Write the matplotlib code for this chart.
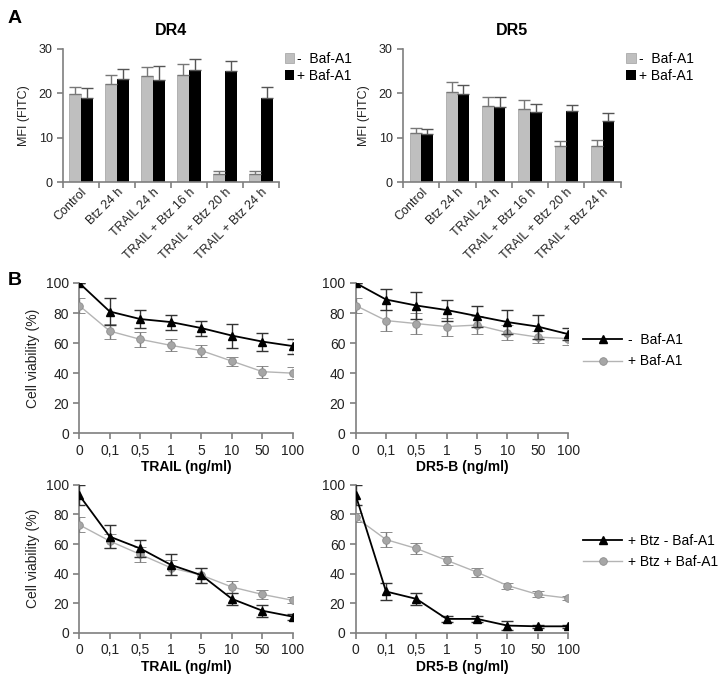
import matplotlib
matplotlib.use("Agg")
import matplotlib.pyplot as plt
from matplotlib.lines import Line2D
import numpy as np

plt.rcParams['font.family'] = ['Liberation Sans', 'DejaVu Sans']

# bar chart data (panel A)
bar_cats = ['Control', 'Btz 24 h', 'TRAIL 24 h', 'TRAIL + Btz 16 h',
            'TRAIL + Btz 20 h', 'TRAIL + Btz 24 h']
dr4_minus = [19.8, 22.1, 23.8, 24.1, 1.8, 1.8]
dr4_minus_err = [1.5, 2.0, 2.0, 2.5, 0.6, 0.6]
dr4_plus = [19.0, 23.1, 23.0, 25.2, 25.1, 19.0]
dr4_plus_err = [2.1, 2.3, 3.1, 2.5, 2.2, 2.4]
dr5_minus = [11.0, 20.3, 17.1, 16.4, 8.1, 8.1]
dr5_minus_err = [1.2, 2.2, 2.0, 2.0, 1.1, 1.3]
dr5_plus = [10.8, 19.8, 16.8, 15.7, 15.9, 13.8]
dr5_plus_err = [1.2, 2.1, 2.3, 1.9, 1.4, 1.7]

# viability data (panel B)
doses = ['0', '0,1', '0,5', '1', '5', '10', '50', '100']
trail_minus = [100, 81, 76, 74, 70, 65, 61, 58]
trail_minus_err = [0, 9, 6, 5, 5, 8, 6, 5]
trail_plus = [85, 68, 62.5, 58.5, 55, 48, 41, 40]
trail_plus_err = [5, 5, 5, 4, 4, 3, 4, 4]
dr5b_minus = [100, 89, 85, 82, 78, 74, 71, 66]
dr5b_minus_err = [0, 7, 9, 7, 7, 8, 8, 4]
dr5b_plus = [85, 75, 73, 71, 72, 67, 64, 63]
dr5b_plus_err = [5, 7, 7, 6, 6, 5, 4, 4]
trail_btz_minus = [93, 65, 57, 46, 39, 23, 15, 11]
trail_btz_minus_err = [7, 8, 6, 7, 5, 4, 4, 2]
trail_btz_plus = [73, 62, 53, 44, 39, 31, 26, 22]
trail_btz_plus_err = [5, 5, 5, 5, 5, 4, 3, 2]
dr5b_btz_minus = [93, 28, 23, 9.5, 9.5, 5, 4.5, 4.5]
dr5b_btz_minus_err = [7, 6, 4, 2, 2, 3, 1, 1]
dr5b_btz_plus = [78, 63, 57, 49, 41, 32, 26, 23.5]
dr5b_btz_plus_err = [3, 5, 4, 3, 3, 2, 2, 1.5]

SPINE = '#7f7f7f'
GRAY_BAR = '#bfbfbf'
LINE_GRAY = '#b4b4b4'
MARK_GRAY = '#a6a6a6'
TXT = '#222222'

fig = plt.figure(figsize=(7.2, 6.77), dpi=100)


def style_axes(ax, size):
    for s in ['top', 'right']:
        ax.spines[s].set_visible(False)
    for s in ['left', 'bottom']:
        ax.spines[s].set_color(SPINE)
        ax.spines[s].set_linewidth(1.2)
    ax.tick_params(colors=SPINE, labelcolor=TXT, labelsize=size,
                   direction='out', length=4, width=1.2)


def bar_panel(rect, title, minus, minus_err, plus, plus_err):
    ax = fig.add_axes(rect)
    x = np.arange(len(bar_cats))
    w = 0.32
    ax.bar(x - w / 2, minus, w, color=GRAY_BAR, edgecolor='#a0a0a0', lw=0.5,
           yerr=[np.zeros(len(minus)), minus_err], capsize=4,
           error_kw=dict(ecolor='#777777', elinewidth=1, capthick=1),
           label='-  Baf-A1')
    ax.bar(x + w / 2, plus, w, color='black',
           yerr=[np.zeros(len(plus)), plus_err], capsize=4,
           error_kw=dict(ecolor='#555555', elinewidth=1, capthick=1),
           label='+ Baf-A1')
    style_axes(ax, 9)
    ax.set_xlim(-0.5, len(bar_cats) - 0.5)
    ax.set_ylim(0, 30)
    ax.set_yticks([0, 10, 20, 30])
    ax.set_xticks(np.arange(len(bar_cats) + 1) - 0.5)
    ax.set_xticklabels([])
    ax.set_xticks(x, minor=True)
    ax.set_xticklabels(bar_cats, minor=True, rotation=45, ha='right',
                       rotation_mode='anchor', fontsize=9, color=TXT)
    ax.tick_params(axis='x', which='minor', length=0, pad=3)
    ax.set_ylabel('MFI (FITC)', fontsize=9, color=TXT, labelpad=6)
    ax.set_title(title, fontsize=11.5, fontweight='bold', pad=10)
    ax.legend(loc='upper left', bbox_to_anchor=(1.0, 1.02), frameon=False,
              fontsize=10, handlelength=0.7, handleheight=0.7,
              handletextpad=0.2, labelspacing=0.25, borderaxespad=0)
    return ax


def line_panel(rect, xlabel, minus, minus_err, plus, plus_err, labels,
               legend_y=None):
    ax = fig.add_axes(rect)
    x = np.arange(len(doses))
    ax.errorbar(x, plus, yerr=plus_err, color=LINE_GRAY, lw=1, marker='o',
                ms=5.5, mfc=MARK_GRAY, mec='#8c8c8c', mew=0.6, ecolor='#7a7a7a',
                elinewidth=1, capsize=4, capthick=1, zorder=2)
    ax.errorbar(x, minus, yerr=minus_err, color='black', lw=1.3, marker='^',
                ms=6, mfc='black', mec='black', ecolor='#333333',
                elinewidth=1, capsize=4, capthick=1, zorder=3)
    style_axes(ax, 10)
    ax.set_xlim(0, len(doses) - 1)
    ax.set_ylim(0, 100)
    ax.set_yticks(np.arange(0, 101, 20))
    ax.set_xticks(x)
    ax.set_xticklabels(doses)
    ax.set_xlabel(xlabel, fontsize=10, fontweight='bold', labelpad=2)
    ax.spines['left'].set_zorder(0)
    if legend_y is not None:
        h = [Line2D([], [], color='black', lw=1.3, marker='^', ms=6,
                    mfc='black'),
             Line2D([], [], color=LINE_GRAY, lw=1, marker='o', ms=5.5,
                    mfc=MARK_GRAY, mec='#8c8c8c', mew=0.6)]
        ax.legend(h, labels, loc='center left',
                  bbox_to_anchor=(1.045, legend_y), frameon=False,
                  fontsize=10, handlelength=2.8, handletextpad=0.4,
                  labelspacing=0.55, borderaxespad=0)
    return ax


bar_panel([0.0875, 0.731, 0.300, 0.197], 'DR4',
          dr4_minus, dr4_minus_err, dr4_plus, dr4_plus_err)
bar_panel([0.560, 0.731, 0.302, 0.197], 'DR5',
          dr5_minus, dr5_minus_err, dr5_plus, dr5_plus_err)

ax1 = line_panel([0.110, 0.360, 0.297, 0.222], 'TRAIL (ng/ml)',
                 trail_minus, trail_minus_err, trail_plus, trail_plus_err,
                 ['-  Baf-A1', '+ Baf-A1'])
ax1.set_ylabel('Cell viability (%)', fontsize=10, color=TXT)
line_panel([0.494, 0.360, 0.295, 0.222], 'DR5-B (ng/ml)',
           dr5b_minus, dr5b_minus_err, dr5b_plus, dr5b_plus_err,
           ['-  Baf-A1', '+ Baf-A1'], legend_y=0.55)
ax3 = line_panel([0.110, 0.065, 0.297, 0.219], 'TRAIL (ng/ml)',
                 trail_btz_minus, trail_btz_minus_err, trail_btz_plus,
                 trail_btz_plus_err, ['+ Btz  -  Baf-A1', '+ Btz + Baf-A1'])
ax3.set_ylabel('Cell viability (%)', fontsize=10, color=TXT)
line_panel([0.494, 0.065, 0.295, 0.219], 'DR5-B (ng/ml)',
           dr5b_btz_minus, dr5b_btz_minus_err, dr5b_btz_plus,
           dr5b_btz_plus_err, ['+ Btz - Baf-A1', '+ Btz + Baf-A1'],
           legend_y=0.55)

fig.text(0.011, 0.985, 'A', fontsize=14, fontweight='bold', va='top')
fig.text(0.011, 0.598, 'B', fontsize=14, fontweight='bold', va='top')

fig.savefig('out.png', dpi=100)
